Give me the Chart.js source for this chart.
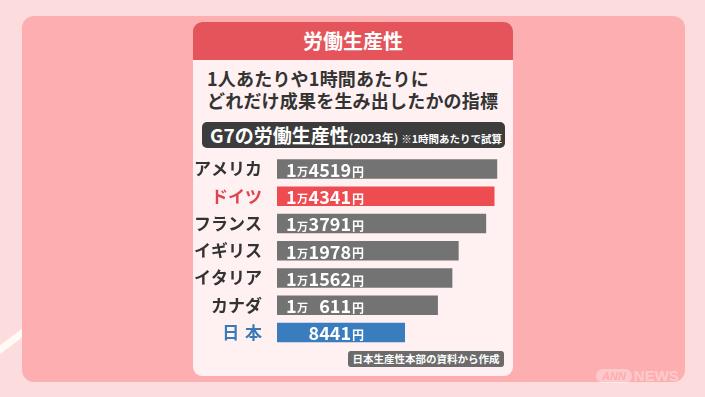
<!DOCTYPE html>
<html>
<head>
<meta charset="utf-8">
<script src="https://cdn.jsdelivr.net/npm/chart.js@4"></script>
<style>
  html, body { margin: 0; padding: 0; }
  body { width: 705px; height: 397px; position: relative; overflow: hidden; background: #fddcdd; font-family: "Noto Sans CJK JP", sans-serif; }
  .abs { position: absolute; }
  #stripe { left: 0; top: 0; }
  #panel { left: 22px; top: 16px; width: 663px; height: 366px; background: #fdaeb1; border-radius: 12px; }
  #card { left: 193px; top: 22px; width: 320px; height: 354px; background: #fff1f1; border-radius: 9px; overflow: hidden; }
  #head { left: 0; top: 0; width: 320px; height: 38px; background: #e4545a; color: #fff; font-weight: 700; font-size: 20px; line-height: 38px; text-align: center; }
  .sub { left: 14px; color: #333; font-weight: 700; font-size: 18px; letter-spacing: 0.2px; white-space: nowrap; line-height: 26px; }
  #pill { left: 9px; top: 100px; width: 303px; height: 26px; background: #3c3c3c; border-radius: 5px; color: #fff; white-space: nowrap; }
  #pill .a { position: absolute; left: 8px; top: 0; line-height: 26px; font-weight: 700; font-size: 19px; }
  #pill .b { font-size: 12px; font-weight: 700; }
  #pill .c { font-size: 10.5px; font-weight: 700; margin-left: 3px; }
  #src { left: 155px; top: 329px; width: 156px; height: 16px; background: #6b6b6b; border-radius: 3px; color: #fff; font-size: 10.5px; font-weight: 700; line-height: 16px; text-align: center; white-space: nowrap; }
  #wm { left: 596px; top: 361px; height: 16px; opacity: 0.35; white-space: nowrap; }
  #wm .ann { display: inline-block; background: #fff; color: #fdaeb1; border-radius: 8px; font-family: "Liberation Sans", sans-serif; font-style: italic; font-weight: 700; font-size: 11px; line-height: 14px; padding: 0 6px; vertical-align: middle; }
  #wm .news { color: #fff; font-family: "Liberation Sans", sans-serif; font-weight: 700; font-size: 15px; vertical-align: middle; margin-left: 2px; }
  #c { position: absolute; left: 0; top: 0; }
</style>
</head>
<body>
<svg id="stripe" class="abs" width="705" height="397">
  <line x1="-10" y1="357" x2="80" y2="290" stroke="#fffaf6" stroke-width="7"/>
</svg>
<div id="panel" class="abs"></div>
<div id="card" class="abs">
  <div id="head" class="abs">労働生産性</div>
  <div class="abs sub" style="top:43px;">1人あたりや1時間あたりに</div>
  <div class="abs sub" style="top:65px;">どれだけ成果を生み出したかの指標</div>
  <div id="pill" class="abs"><span class="a">G7の労働生産性<span class="b">(2023年)</span><span class="c">※1時間あたりで試算</span></span></div>
  <div id="src" class="abs">日本生産性本部の資料から作成</div>
</div>
<div id="wm" class="abs"><span class="ann">ANN</span><span class="news">NEWS</span></div>
<canvas id="c" width="705" height="397"></canvas>
<script>
// G7 labour productivity per hour, 2023 (yen)
const countries = ['アメリカ', 'ドイツ', 'フランス', 'イギリス', 'イタリア', 'カナダ', '日本'];
const values = [14519, 14341, 13791, 11978, 11562, 10611, 8441];
const barColors = ['#737373', '#ef4c52', '#737373', '#737373', '#737373', '#737373', '#3a7dbf'];
const labelColors = ['#333333', '#e2434a', '#333333', '#333333', '#333333', '#333333', '#3a78b7'];

const FONT = '"Noto Sans CJK JP", sans-serif';

// writes "1万4519円" inside each bar
const valueLabels = {
  id: 'valueLabels',
  afterDatasetsDraw(chart) {
    const ctx = chart.ctx;
    const meta = chart.getDatasetMeta(0);
    ctx.save();
    ctx.fillStyle = '#fff';
    ctx.textBaseline = 'middle';
    meta.data.forEach((bar, i) => {
      const v = values[i];
      const x0 = bar.base;
      const y = bar.y + 1;
      const man = Math.floor(v / 10000);
      const rest = v % 10000;
      if (man > 0) {
        ctx.font = 'bold 18px ' + FONT;
        ctx.textAlign = 'left';
        ctx.fillText(String(man), x0 + 9, y);
        ctx.font = 'bold 11px ' + FONT;
        ctx.fillText('万', x0 + 20, y + 2);
      }
      ctx.font = 'bold 18px ' + FONT;
      ctx.textAlign = 'right';
      ctx.fillText(String(rest), x0 + 74, y);
      ctx.font = 'bold 12px ' + FONT;
      ctx.textAlign = 'left';
      ctx.fillText('円', x0 + 75, y + 2);
    });
    ctx.restore();
  }
};

new Chart(document.getElementById('c'), {
  type: 'bar',
  data: {
    labels: countries,
    datasets: [{
      data: values,
      backgroundColor: barColors,
      borderWidth: 0,
      categoryPercentage: 1,
      barPercentage: 0.716
    }]
  },
  options: {
    indexAxis: 'y',
    responsive: false,
    animation: false,
    devicePixelRatio: 1,
    layout: {
      padding: { left: 187, right: 200.5, top: 155.4, bottom: 50.9 }
    },
    plugins: {
      legend: { display: false },
      tooltip: { enabled: false }
    },
    scales: {
      x: {
        display: false,
        min: 0,
        max: 15000
      },
      y: {
        grid: { display: false },
        border: { display: false },
        afterFit: (scale) => { scale.width = 90; },
        ticks: {
          padding: 7,
          font: { family: FONT, size: 17, weight: 'bold' },
          color: (c) => labelColors[c.index],
          callback: (v, i) => countries[i].length === 2 ? countries[i].split('').join('\u2004') : countries[i]
        }
      }
    }
  },
  plugins: [valueLabels]
});
</script>
</body>
</html>
